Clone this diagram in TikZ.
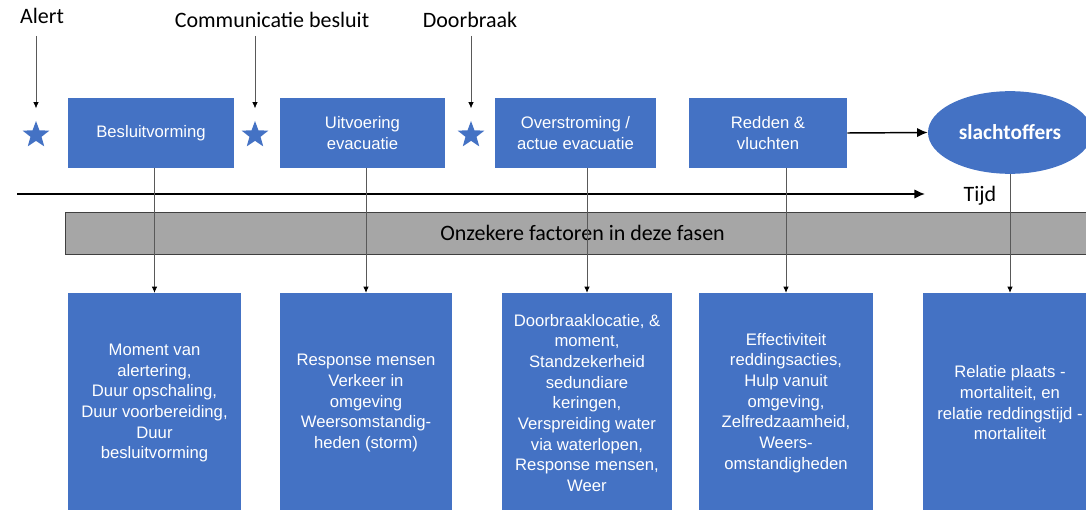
\documentclass[tikz,border=0pt]{standalone}
\usepackage{fontspec}
\setmainfont{Liberation Sans}
\newfontfamily\calfont{Carlito}
\usetikzlibrary{shapes.geometric,arrows.meta}
\definecolor{fase}{HTML}{4472C4}
\definecolor{balk}{HTML}{A6A6A6}

\begin{document}
\begin{tikzpicture}[x=0.75pt,y=-0.75pt,
  fase/.style={fill=fase,text=white,align=center,inner sep=2pt,
    font=\fontsize{12.5}{15.5}\selectfont},
  moment/.style={star,star points=5,star point ratio=2.4,fill=fase,
    minimum size=21pt,inner sep=0pt},
  kop/.style={font=\calfont\fontsize{16.5}{19}\selectfont,inner sep=1pt},
  dun/.style={draw=gray!70!black,line width=0.5pt,
    -{Latex[length=4.5pt,width=4pt,color=black]}},
  dik/.style={line width=1.1pt,-{Latex[length=8pt,width=7pt]}}]
  \path[use as bounding box,clip] (0,0) rectangle (1086,510);

  % momenten
  \node[kop] (alert) at (42,16) {Alert};
  \node[kop] (comm) at (272,20) {Communicatie besluit};
  \node[kop] (door) at (470,20) {Doorbraak};
  \node[moment] (s1) at (36,135) {};
  \node[moment] (s2) at (255,135) {};
  \node[moment] (s3) at (471,135) {};
  \draw[dun,shorten <=8pt,shorten >=9pt] (s1.north |- alert.south) to (s1.north);
  \draw[dun,shorten <=5pt,shorten >=9pt] (s2.north |- comm.south) to (s2.north);
  \draw[dun,shorten <=5pt,shorten >=9pt] (s3.north |- door.south) to (s3.north);

  % fasen
  \node[fase,minimum width=124.5pt,minimum height=52.5pt] (t1) at (151,133) {Besluitvorming};
  \node[fase,minimum width=123.75pt,minimum height=52.5pt] (t2) at (362.5,133) {Uitvoering\\evacuatie};
  \node[fase,minimum width=120.75pt,minimum height=52.5pt] (t3) at (575.5,133) {Overstroming /\\actue evacuatie};
  \node[fase,minimum width=118.5pt,minimum height=52.5pt] (t4) at (768,133) {Redden \&\\vluchten};
  \node[ellipse,fill=fase,text=white,minimum width=123pt,minimum height=62pt,
    font=\calfont\bfseries\fontsize{16}{19}\selectfont] (slacht) at (1010,132.5) {slachtoffers};
  \draw[dik] (t4.east) to (slacht.west);

  % tijdas
  \coordinate (as0) at (17,194);
  \coordinate (as1) at (925,194);
  \draw[dik] (as0) to (as1);
  \node[kop] (tijd) at (980,196) {Tijd};

  % onzekere factoren
  \node[fill=balk,draw=black!75,line width=0.6pt,minimum width=776pt,minimum height=31.5pt,
    font=\calfont\fontsize{16.5}{19}\selectfont] (balk) at (582.5,233) {Onzekere factoren in deze fasen};
  \node[fase,minimum width=129.75pt,minimum height=165pt] (b1) at (154.5,403) {Moment van\\alertering,\\Duur opschaling,\\Duur voorbereiding,\\Duur\\besluitvorming};
  \node[fase,minimum width=129pt,minimum height=165pt] (b2) at (366,403) {Response mensen\\Verkeer in\\omgeving\\Weersomstandig-\\heden (storm)};
  \node[fase,minimum width=127.5pt,minimum height=165pt] (b3) at (587,403) {Doorbraaklocatie, \&\\moment,\\Standzekerheid\\sedundiare\\keringen,\\Verspreiding water\\via waterlopen,\\Response mensen,\\Weer};
  \node[fase,minimum width=130.5pt,minimum height=165pt] (b4) at (786,403) {Effectiviteit\\reddingsacties,\\Hulp vanuit\\omgeving,\\Zelfredzaamheid,\\Weers-\\omstandigheden};
  \node[fase,minimum width=130.5pt,minimum height=165pt] (b5) at (1010,403) {Relatie plaats -\\mortaliteit, en\\relatie reddingstijd -\\mortaliteit};

  \draw[dun] (b1.north |- t1.south) to (b1.north);
  \draw[dun] (b2.north |- t2.south) to (b2.north);
  \draw[dun] (b3.north |- t3.south) to (b3.north);
  \draw[dun] (b4.north |- t4.south) to (b4.north);
  \draw[dun] (b5.north |- slacht.south) to (b5.north);
\end{tikzpicture}
\end{document}
